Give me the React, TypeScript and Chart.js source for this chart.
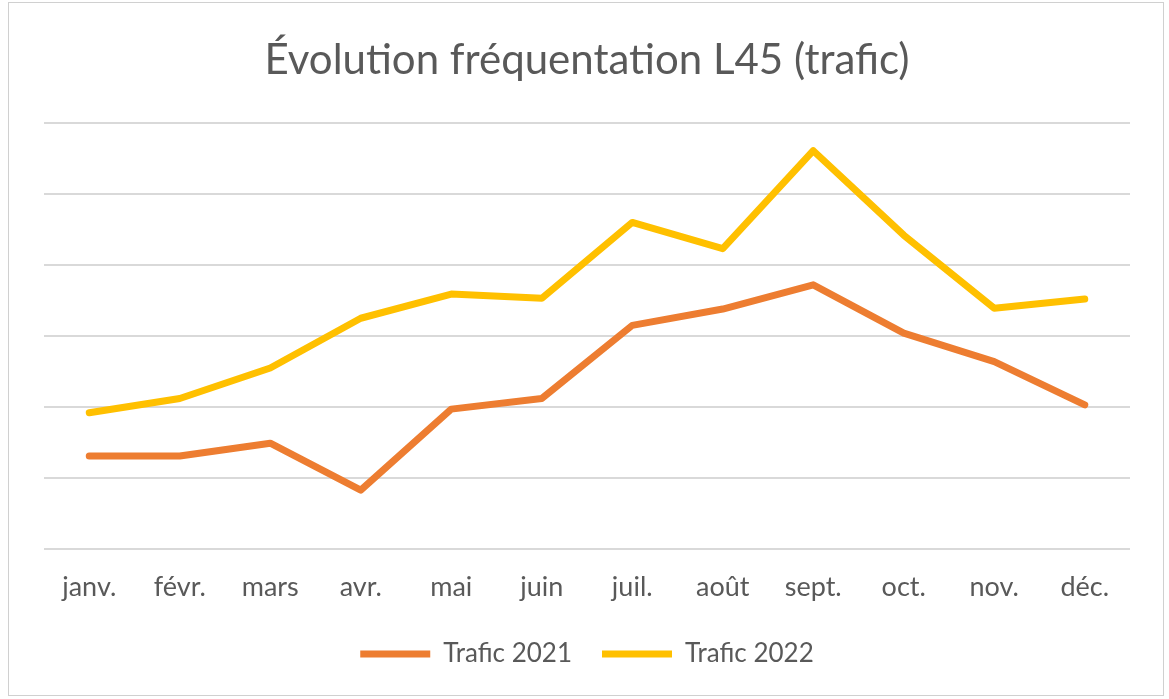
import React, { useEffect, useRef } from "react";
import { Chart, registerables } from "chart.js";

Chart.register(...registerables);

const categories = ["janv.", "févr.", "mars", "avr.", "mai", "juin", "juil.", "août", "sept.", "oct.", "nov.", "déc."];
const trafic2021 = [1.31, 1.31, 1.49, 0.83, 1.97, 2.12, 3.15, 3.38, 3.72, 3.04, 2.64, 2.03];
const trafic2022 = [1.92, 2.12, 2.55, 3.25, 3.59, 3.53, 4.6, 4.23, 5.61, 4.42, 3.39, 3.52];
const titleText = "Évolution fréquentation L45 (trafic)";
const FONT = "Lato, 'Open Sans', sans-serif";

export default function App() {
  const ref = useRef<HTMLCanvasElement | null>(null);
  useEffect(() => {
    if (!ref.current) return;
    const chart = new Chart(ref.current, {
      type: "line",
      data: {
        labels: categories,
        datasets: [
          {
            label: "Trafic 2021",
            data: trafic2021,
            borderColor: "#ED7D31",
            backgroundColor: "#ED7D31",
            borderWidth: 7,
            borderCapStyle: "round",
            borderJoinStyle: "round",
            pointRadius: 0,
            tension: 0,
          },
          {
            label: "Trafic 2022",
            data: trafic2022,
            borderColor: "#FFC000",
            backgroundColor: "#FFC000",
            borderWidth: 7,
            borderCapStyle: "round",
            borderJoinStyle: "round",
            pointRadius: 0,
            tension: 0,
          },
        ],
      },
      options: {
        responsive: false,
        animation: false,
        layout: { padding: { top: 0, left: 44, right: 39, bottom: 22 } },
        scales: {
          x: {
            offset: true,
            grid: { display: false, drawTicks: false },
            border: { display: false },
            ticks: {
              color: "#595959",
              font: { family: FONT, size: 27, lineHeight: 0.5 },
              padding: 31.25,
              maxRotation: 0,
              autoSkip: false,
            },
            afterFit: (scale: any) => {
              scale.height = scale.height - 14;
            },
          },
          y: {
            min: 0,
            max: 6,
            ticks: { display: false, stepSize: 1 },
            grid: { color: "#d9d9d9", lineWidth: 2, drawTicks: false },
            border: { display: false },
          },
        },
        plugins: {
          title: {
            display: true,
            text: titleText,
            color: "#595959",
            font: { family: FONT, size: 42, weight: "normal", lineHeight: 1.2 },
            padding: { top: 35, bottom: 37.6 },
          },
          legend: {
            position: "bottom",
            labels: {
              usePointStyle: true,
              pointStyle: "line",
              pointStyleWidth: 70,
              boxHeight: 20,
              padding: 30,
              color: "#595959",
              font: { family: FONT, size: 26 },
            },
          },
          tooltip: { enabled: false },
        },
      },
    });
    return () => chart.destroy();
  }, []);
  return (
    <div style={{ position: "absolute", left: 0, top: 0, width: 1169, height: 699, background: "#fff" }}>
      <div
        style={{
          position: "absolute",
          left: 8,
          top: 2,
          width: 1156,
          height: 694,
          border: "1px solid #d0d0d0",
          boxSizing: "border-box",
        }}
      />
      <canvas ref={ref} width={1169} height={699} style={{ position: "absolute", left: 0, top: 0 }} />
    </div>
  );
}
